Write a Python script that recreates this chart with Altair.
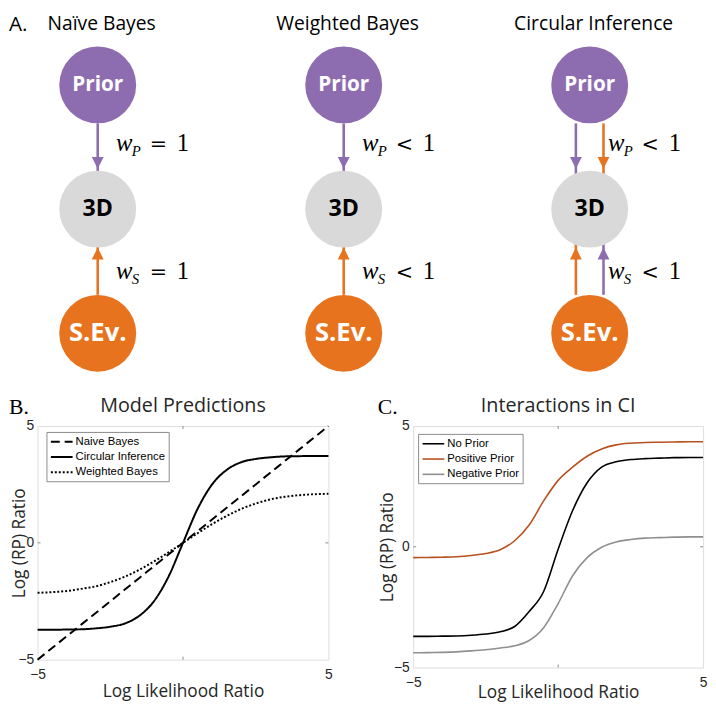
import altair as alt
import pandas as pd

# ---------------- panel B / C data ----------------
llr = [-5.0, -4.5, -4.0, -3.5, -3.0, -2.5, -2.0, -1.5, -1.0, -0.5, 0.0,
       0.5, 1.0, 1.5, 2.0, 2.5, 3.0, 3.5, 4.0, 4.5, 5.0]

model_names = ["Naive Bayes", "Circular Inference", "Weighted Bayes"]
naive_bayes = [-5.0, -4.5, -4.0, -3.5, -3.0, -2.5, -2.0, -1.5, -1.0, -0.5, 0.0,
               0.5, 1.0, 1.5, 2.0, 2.5, 3.0, 3.5, 4.0, 4.5, 5.0]
circular_inference = [-3.72, -3.72, -3.71, -3.70, -3.66, -3.59, -3.45, -3.12, -2.50, -1.45, 0.0,
                      1.45, 2.50, 3.12, 3.45, 3.59, 3.66, 3.70, 3.71, 3.72, 3.72]
weighted_bayes = [-2.14, -2.11, -2.06, -1.97, -1.86, -1.68, -1.45, -1.15, -0.80, -0.41, 0.0,
                  0.41, 0.80, 1.15, 1.45, 1.68, 1.86, 1.97, 2.04, 2.08, 2.10]

prior_names = ["No Prior", "Positive Prior", "Negative Prior"]
no_prior = [-3.71, -3.71, -3.70, -3.69, -3.66, -3.61, -3.52, -3.30, -2.68, -1.85, -0.10,
            1.50, 2.65, 3.30, 3.52, 3.61, 3.65, 3.67, 3.69, 3.70, 3.70]
positive_prior = [-0.45, -0.44, -0.43, -0.41, -0.36, -0.28, -0.12, 0.25, 0.90, 1.90, 2.75,
                  3.30, 3.75, 4.05, 4.22, 4.29, 4.32, 4.33, 4.34, 4.35, 4.35]
negative_prior = [-4.39, -4.38, -4.37, -4.35, -4.31, -4.26, -4.19, -4.10, -3.88, -3.35, -2.35,
                  -1.20, -0.45, -0.02, 0.20, 0.30, 0.36, 0.38, 0.40, 0.41, 0.41]

axis_ticks = [0]

# ---------------- panel A (diagram) data ----------------
model_titles = ["Naïve Bayes", "Weighted Bayes", "Circular Inference"]
model_cols = [0, 1, 2]
weight_ops = ["=", "<", "<"]
node_names = ["Prior", "3D", "S.Ev."]
node_rows = [0, 1, 2]
arrow_cols = [0, 0, 1, 1, 2, 2, 2, 2]
arrow_sides = [0, 0, 0, 0, -1, 1, -1, 1]
arrow_from = [0.31, 1.69, 0.31, 1.69, 0.31, 0.31, 1.69, 1.69]
arrow_tip = [0.675, 1.31, 0.675, 1.31, 0.675, 0.675, 1.31, 1.31]
arrow_source = ["Prior", "S.Ev.", "Prior", "S.Ev.", "Prior", "S.Ev.", "S.Ev.", "Prior"]
label_rows = [0.532, 1.563]
label_subs = ["P", "S"]

# ---------------- styles ----------------
PURPLE = "#8E6CB0"
ORANGE = "#E8731F"
LIGHT = "#D9D9D9"
SANS = "Open Sans"
ARIAL = "Liberation Sans"
SERIF = "Liberation Serif"
INK = "#262626"
BOX = "#8a8a8a"

A_W, A_H = 676, 390
COL_PX, ROW_PX = 249.5, 126.0
COL0_X, ROW0_Y = 61.0, 72.0
SIDE = 14.0 / COL_PX

# ---------------- panel A ----------------
nodes_df = pd.DataFrame([{"col": c, "row": r, "node": n}
                         for c in model_cols for r, n in zip(node_rows, node_names)])
arrows_df = pd.DataFrame({
    "col": [c + s * SIDE for c, s in zip(arrow_cols, arrow_sides)],
    "start": arrow_from,
    "tip": arrow_tip,
    "shaft_end": [t - 0.05 if t < f else t + 0.05 for f, t in zip(arrow_from, arrow_tip)],
    "source": arrow_source,
    "dir": ["up" if t < f else "down" for f, t in zip(arrow_from, arrow_tip)],
})
labels_df = pd.DataFrame([{"col": c + 0.074, "row": r, "sub": s, "op": op}
                          for c, op in zip(model_cols, weight_ops)
                          for r, s in zip(label_rows, label_subs)])
titles_df = pd.DataFrame({"col": [c + 0.016 for c in model_cols],
                          "row": [-0.444] * 3, "title": model_titles})

xA = alt.Scale(domain=[-COL0_X / COL_PX, (A_W - COL0_X) / COL_PX], nice=False, zero=False)
yA = alt.Scale(domain=[-ROW0_Y / ROW_PX, (A_H - ROW0_Y) / ROW_PX], nice=False, zero=False, reverse=True)
node_color = alt.Scale(domain=node_names, range=[PURPLE, LIGHT, ORANGE])


def ax(field):
    return alt.X(field, type="quantitative", scale=xA, axis=None)


def ay(field):
    return alt.Y(field, type="quantitative", scale=yA, axis=None)


shafts = alt.Chart(arrows_df).mark_rule(strokeWidth=2.6).encode(
    x=ax("col"), y=ay("start"), y2="shaft_end:Q",
    color=alt.Color("source:N", scale=node_color, legend=None))
heads = alt.Chart(arrows_df).mark_point(filled=True, size=144, opacity=1, strokeWidth=0).encode(
    x=ax("col"), y=ay("tip"),
    color=alt.Color("source:N", scale=node_color, legend=None),
    shape=alt.Shape("dir:N", scale=alt.Scale(domain=["down", "up"],
                                              range=["M0,0L-1,-2L1,-2Z", "M0,0L-1,2L1,2Z"]),
                    legend=None))
circles = alt.Chart(nodes_df).mark_circle(size=6084, opacity=1).encode(
    x=ax("col"), y=ay("row"),
    color=alt.Color("node:N", scale=node_color, legend=None))
node_text = alt.Chart(nodes_df).mark_text(font=SANS, fontWeight="bold", baseline="middle").encode(
    x=ax("col"), y=ay("row"), text="node:N",
    size=alt.Size("node:N", scale=alt.Scale(domain=node_names, range=[21, 26, 21]), legend=None),
    color=alt.condition(alt.datum.node == "3D", alt.value("black"), alt.value("white")))
lab_w = alt.Chart(labels_df).mark_text(font=SERIF, fontStyle="italic", fontSize=25, align="left",
                                       baseline="alphabetic", color="black", text="w").encode(
    x=ax("col"), y=ay("row"))
lab_sub = alt.Chart(labels_df).mark_text(font=SERIF, fontStyle="italic", fontSize=15, align="left",
                                         baseline="alphabetic", color="black", dx=16, dy=5).encode(
    x=ax("col"), y=ay("row"), text="sub:N")
lab_op = alt.Chart(labels_df).mark_text(font="DejaVu Serif", fontSize=21, align="center",
                                        baseline="alphabetic", color="black", dx=43).encode(
    x=ax("col"), y=ay("row"), text="op:N")
lab_one = alt.Chart(labels_df).mark_text(font=SERIF, fontSize=25, align="center",
                                         baseline="alphabetic", color="black", dx=68, text="1").encode(
    x=ax("col"), y=ay("row"))
titles = alt.Chart(titles_df).mark_text(font=SANS, fontSize=19.5, align="center",
                                        baseline="alphabetic", color="black").encode(
    x=ax("col"), y=ay("row"), text="title:N")
letter_a = alt.Chart(pd.DataFrame({"t": ["A."]})).mark_text(
    font=SANS, fontSize=21, align="left", baseline="alphabetic", color="black").encode(
    x=alt.value(-29), y=alt.value(17), text="t:N")

panel_a = alt.layer(shafts, heads, circles, node_text, lab_w, lab_sub, lab_op, lab_one,
                    titles, letter_a).properties(
    width=A_W, height=A_H, view=alt.ViewBackground(stroke="transparent"))


# ---------------- helpers for B / C ----------------
def x_axis(width, title_y, label_pad):
    return alt.Axis(values=[-5, 5], title="Log Likelihood Ratio", labelFlush=False, ticks=False,
                    domain=False, grid=False, labelFont=ARIAL, labelFontSize=14, labelColor=INK,
                    labelPadding=label_pad, labelOverlap=False,
                    titleFont=SANS, titleFontSize=17.5, titleFontWeight="normal", titleColor=INK,
                    titleX=width / 2, titleY=title_y, titleAlign="center", titleBaseline="alphabetic")


def y_axis(height, title_x):
    return alt.Axis(values=[-5, 0, 5], title="Log (RP) Ratio", labelFlush=False, ticks=False,
                    domain=False, grid=False, labelFont=ARIAL, labelFontSize=14, labelColor=INK,
                    labelPadding=4, labelOverlap=False,
                    titleFont=SANS, titleFontSize=17.5, titleFontWeight="normal", titleColor=INK,
                    titleX=title_x, titleY=height / 2, titleAngle=270, titleAlign="center",
                    titleBaseline="top")


def inner_ticks(xs, ys):
    tdf = pd.DataFrame({"t": axis_ticks})
    bottom = alt.Chart(tdf).mark_rule(color=BOX, y2Offset=-3).encode(
        x=alt.X("t:Q", scale=xs, title="Log Likelihood Ratio"), y=alt.datum(-5), y2=alt.datum(-5))
    top = alt.Chart(tdf).mark_rule(color=BOX, y2Offset=3).encode(
        x=alt.X("t:Q", scale=xs, title="Log Likelihood Ratio"), y=alt.datum(5), y2=alt.datum(5))
    left = alt.Chart(tdf).mark_rule(color=BOX, x2Offset=3).encode(
        y=alt.Y("t:Q", scale=ys, title="Log (RP) Ratio"), x=alt.datum(-5), x2=alt.datum(-5))
    right = alt.Chart(tdf).mark_rule(color=BOX, x2Offset=-3).encode(
        y=alt.Y("t:Q", scale=ys, title="Log (RP) Ratio"), x=alt.datum(5), x2=alt.datum(5))
    return [bottom, top, left, right]


def heading(letter, letter_x, title, width):
    lt = alt.Chart(pd.DataFrame({"t": [letter]})).mark_text(
        font=SERIF, fontSize=22, align="left", baseline="alphabetic", color="black").encode(
        x=alt.value(letter_x), y=alt.value(-12), text="t:N")
    tt = alt.Chart(pd.DataFrame({"t": [title]})).mark_text(
        font=SANS, fontSize=20, align="center", baseline="alphabetic", color=INK).encode(
        x=alt.value(width / 2), y=alt.value(-14), text="t:N")
    return [lt, tt]


def legend(lx, ly, stroke_w):
    # short horizontal stroke drawn to the right of its slot, so the row height stays small
    return alt.Legend(title=None, orient="none", legendX=lx, legendY=ly,
                      symbolType="M-1,0L3,0", symbolSize=121, symbolStrokeWidth=stroke_w,
                      symbolFillColor="transparent",
                      labelFont=ARIAL, labelFontSize=11.5, labelColor="black", labelOffset=13,
                      padding=3.5, rowPadding=3.5, strokeColor=BOX, fillColor="white",
                      cornerRadius=0, direction="vertical")


# ---------------- panel B ----------------
B_W, B_H = 295, 237
dfB = pd.DataFrame({
    "llr": llr * 3,
    "value": naive_bayes + circular_inference + weighted_bayes,
    "model": [m for m in model_names for _ in llr],
})
xsB = alt.Scale(domain=[-5, 5], nice=False, zero=False)
ysB = alt.Scale(domain=[-5, 5], nice=False, zero=False)
linesB = alt.Chart(dfB).mark_line(color="black", strokeWidth=2, interpolate="monotone").encode(
    x=alt.X("llr:Q", scale=xsB, axis=x_axis(B_W, 37, 8)),
    y=alt.Y("value:Q", scale=ysB, axis=y_axis(B_H, -27)),
    strokeDash=alt.StrokeDash("model:N",
                              scale=alt.Scale(domain=model_names, range=[[9, 5], [1, 0], [2, 2]]),
                              legend=legend(9, 6, 2)))
panel_b = alt.layer(linesB, *inner_ticks(xsB, ysB), *heading("B.", -29, "Model Predictions", B_W)).properties(
    width=B_W, height=B_H)

# ---------------- panel C ----------------
C_W, C_H = 294, 245
dfC = pd.DataFrame({
    "llr": llr * 3,
    "value": no_prior + positive_prior + negative_prior,
    "prior": [p for p in prior_names for _ in llr],
})
xsC = alt.Scale(domain=[-5, 5], nice=False, zero=False)
ysC = alt.Scale(domain=[-5, 5], nice=False, zero=False)
linesC = alt.Chart(dfC).mark_line(strokeWidth=1.6, interpolate="monotone").encode(
    x=alt.X("llr:Q", scale=xsC, axis=x_axis(C_W, 30, 8)),
    y=alt.Y("value:Q", scale=ysC, axis=y_axis(C_H, -35)),
    color=alt.Color("prior:N",
                    scale=alt.Scale(domain=prior_names, range=["black", "#B8501F", "#8F8F8F"]),
                    legend=legend(5, 8, 1.6)))
panel_c = alt.layer(linesC, *inner_ticks(xsC, ysC), *heading("C.", -36, "Interactions in CI", C_W)).properties(
    width=C_W, height=C_H)

bottom_row = alt.hconcat(panel_b, panel_c, spacing=86, bounds="flush").resolve_scale(
    color="independent", strokeDash="independent").resolve_legend(
    color="independent", strokeDash="independent")
chart = alt.vconcat(panel_a, bottom_row, spacing=28, bounds="flush").resolve_scale(
    color="independent", strokeDash="independent", shape="independent", size="independent"
).resolve_legend(
    color="independent", strokeDash="independent", shape="independent", size="independent"
).properties(
    padding=0
).configure_view(stroke=BOX, strokeWidth=1).configure(font=SANS)

chart.save("out.html", embed_options={"renderer": "svg", "actions": False})
